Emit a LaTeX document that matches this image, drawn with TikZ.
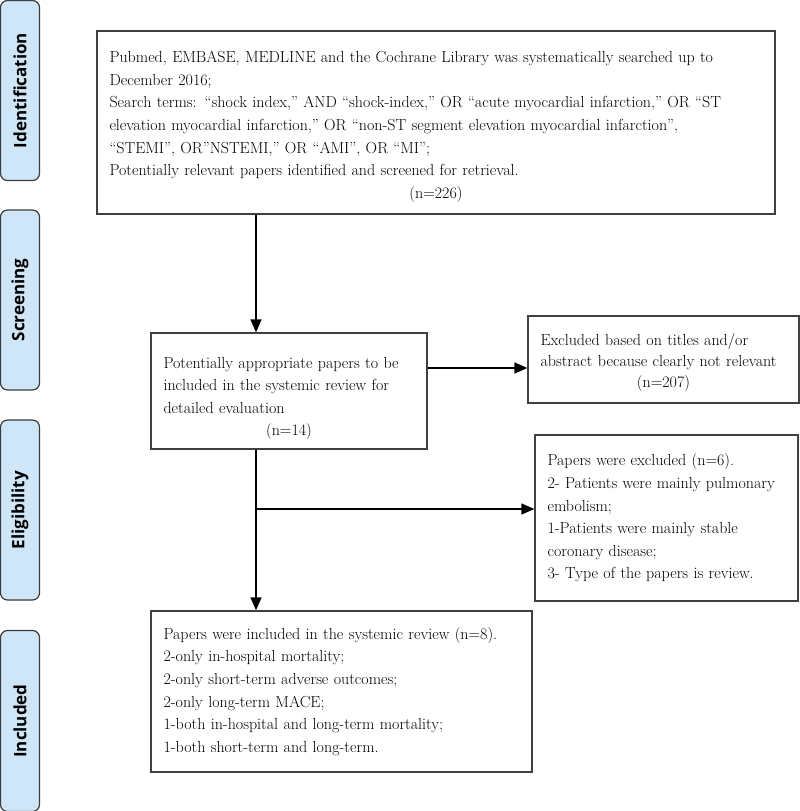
\documentclass[tikz,border=0pt]{standalone}
\usepackage{fontspec}
\newfontfamily\tabfont{Open Sans}
\usetikzlibrary{arrows.meta}
\definecolor{tabfill}{RGB}{206,230,248}
\definecolor{tabline}{RGB}{60,60,60}
\definecolor{boxline}{RGB}{64,64,64}
\newcommand{\ctrline}[1]{\makebox[\linewidth][c]{#1}}
\newcommand{\topgap}[1]{\rule{0pt}{#1}}
\begin{document}
\begin{tikzpicture}[x=1pt,y=-1pt,
  tab/.style={draw=tabline, fill=tabfill, line width=1.2pt, rounded corners=7pt,
    rotate=90, minimum height=39pt, inner sep=0pt,
    font=\tabfont\bfseries\fontsize{17}{20}\selectfont},
  box/.style={draw=boxline, line width=1.3pt, inner xsep=12.5pt, inner ysep=0pt,
    align=left, font=\fontsize{16}{22.6}\selectfont},
  arr/.style={draw=black, line width=1.3pt, -{Triangle[length=13pt,width=11pt]}}
]
\fill[white] (0,0) rectangle (800,811);
\useasboundingbox (0,0) rectangle (800,811);

% stage tabs
\node[tab, minimum width=180pt] (t1) at (20,90.5) {Identification};
\node[tab, minimum width=180pt] (t2) at (20,300) {Screening};
\node[tab, minimum width=180pt] (t3) at (20,510) {Eligibility};
\node[tab, minimum width=181pt] (t4) at (20,721) {Included};

% boxes
\node[box, text width=653pt, minimum height=183pt] (top) at (436,122.5)
{\topgap{20pt}Pubmed, EMBASE, MEDLINE and the Cochrane Library was systematically searched up to\\
December 2016;\\
Search terms: “shock index,” AND “shock-index,” OR “acute myocardial infarction,” OR “ST\\
elevation myocardial infarction,” OR “non-ST segment elevation myocardial infarction”,\\
“STEMI”, OR”NSTEMI,” OR “AMI”, OR “MI”;\\
Potentially relevant papers identified and screened for retrieval.\\
\ctrline{(n=226)}};

\node[box, text width=251pt, minimum height=116pt] (b2) at (289,391)
{\topgap{26pt}Potentially appropriate papers to be\\
included in the systemic review for\\
detailed evaluation\\
\ctrline{(n=14)}};

\node[box, text width=246pt, minimum height=87pt, font=\fontsize{16}{21}\selectfont] (ex) at (663.5,359.5)
{\topgap{17pt}Excluded based on titles and/or\\
abstract because clearly not relevant\\
\ctrline{(n=207)}};

\node[box, text width=238pt, minimum height=166pt] (el) at (666.5,518)
{Papers were excluded (n=6).\\
2- Patients were mainly pulmonary\\
embolism;\\
1-Patients were mainly stable\\
coronary disease;\\
3- Type of the papers is review.};

\node[box, text width=356pt, minimum height=161pt] (inc) at (341.5,691.5)
{Papers were included in the systemic review (n=8).\\
2-only in-hospital mortality;\\
2-only short-term adverse outcomes;\\
2-only long-term MACE;\\
1-both in-hospital and long-term mortality;\\
1-both short-term and long-term.};

% connectors
\coordinate (ax) at (256,0);
\coordinate (ay1) at (0,368);
\coordinate (ay2) at (0,509);
\draw[arr] (top.south -| ax) -- (b2.north -| ax);
\draw[arr] (b2.east |- ay1) -- (ex.west |- ay1);
\draw[arr] (b2.south -| ax) -- (inc.north -| ax);
\draw[arr] (ax |- ay2) -- (el.west |- ay2);
\end{tikzpicture}
\end{document}
